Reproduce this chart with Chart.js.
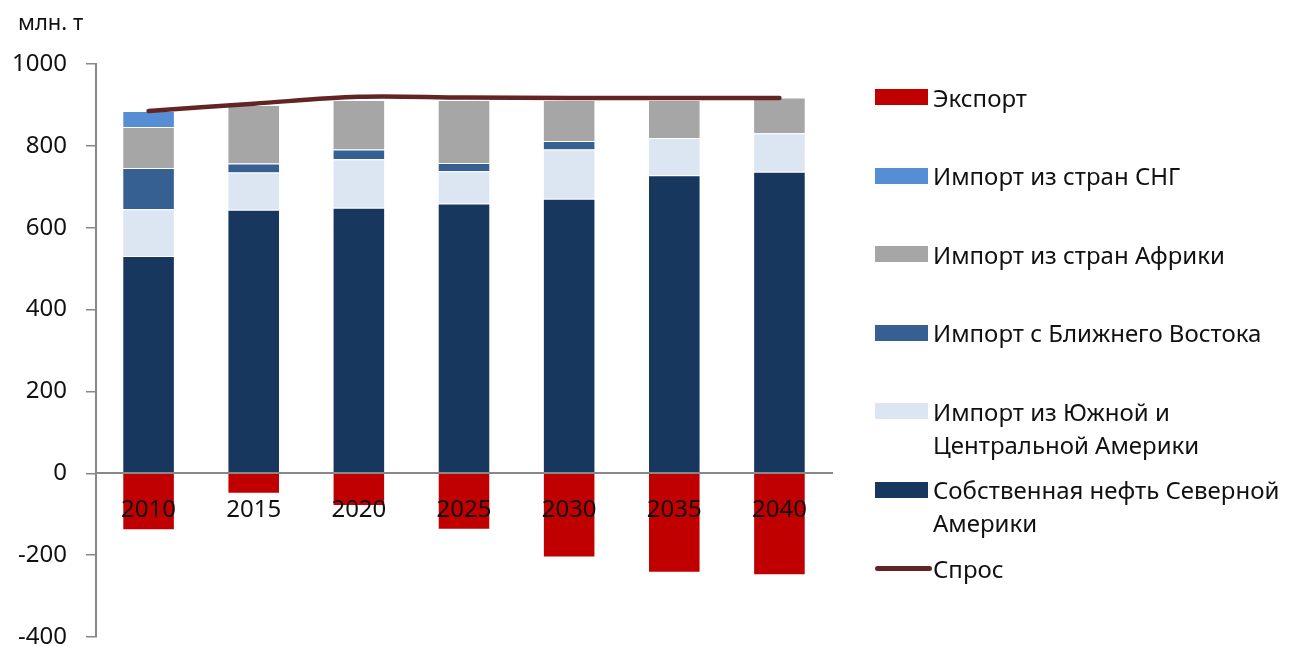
<!DOCTYPE html>
<html>
<head>
<meta charset="utf-8">
<script src="https://cdn.jsdelivr.net/npm/chart.js@4/dist/chart.umd.min.js"></script>
<style>
  body { margin: 0; background: #fff; font-family: "Noto Sans", sans-serif; }
  #wrap { position: relative; width: 1296px; height: 647px; }
  #unit { position: absolute; left: 18px; top: 6px; font-size: 22px; color: #111; }
  #legend { position: absolute; left: 0; top: 0; }
  .item { position: absolute; left: 875px; display: flex; align-items: flex-start; }
  .sw { width: 53px; height: 16px; margin-top: 8.5px; margin-right: 5px; flex: none; }
  .ln { width: 57px; height: 5px; border-radius: 3px; margin-top: 14px; margin-right: 1px; flex: none; }
  .txt { font-size: 24px; line-height: 33px; color: #111; white-space: nowrap; }
</style>
</head>
<body>
<div id="wrap">
  <canvas id="myChart" width="1296" height="647"></canvas>
  <div id="unit">млн. т</div>
  <div id="legend"></div>
</div>
<script>
// ==============Data==============
const years = ["2010", "2015", "2020", "2025", "2030", "2035", "2040"];
const ownNA = [531, 644, 649, 659, 671, 728, 737];
const importSCA = [114, 91, 118, 79, 120, 91, 94];
const importME = [101, 22, 24, 20, 21, 0, 0];
const importAfrica = [100, 143, 121, 154, 100, 93, 87];
const importCIS = [39, 0, 0, 0, 0, 0, 0];
const exportVals = [-139, -50, -80, -138, -206, -243, -249];
const demand = [885, 903, 920, 918, 917, 917, 917];
const yTicks = [1000, 800, 600, 400, 200, 0, -200, -400];

const colors = {
  own: "#17375E",
  sca: "#DCE6F2",
  me: "#366092",
  africa: "#A6A6A6",
  cis: "#558ED5",
  exp: "#C00000",
  demand: "#632523",
};

function barSet(label, data, color) {
  return {
    type: "bar",
    label: label,
    data: data,
    backgroundColor: color,
    borderColor: "rgba(255,255,255,0.55)",
    borderWidth: 1,
    stack: "s",
    order: 1,
    barPercentage: 0.5,
    categoryPercentage: 1,
  };
}

const datasets = [
  barSet("Собственная нефть Северной Америки", ownNA, colors.own),
  barSet("Импорт из Южной и Центральной Америки", importSCA, colors.sca),
  barSet("Импорт с Ближнего Востока", importME, colors.me),
  barSet("Импорт из стран Африки", importAfrica, colors.africa),
  barSet("Импорт из стран СНГ", importCIS, colors.cis),
  barSet("Экспорт", exportVals, colors.exp),
  {
    type: "line",
    label: "Спрос",
    data: demand,
    borderColor: colors.demand,
    backgroundColor: colors.demand,
    borderWidth: 4.5,
    borderCapStyle: "round",
    pointRadius: 0,
    tension: 0.35,
    stack: "d",
    order: 0,
  },
];

const font = { family: "'Noto Sans', sans-serif", size: 24 };

const ctx = document.getElementById("myChart").getContext("2d");
const mychart = new Chart(ctx, {
  data: { labels: years, datasets: datasets },
  options: {
    responsive: false,
    animation: false,
    layout: { padding: { left: 0, top: 64, right: 464, bottom: 10 } },
    plugins: { legend: { display: false }, tooltip: { enabled: false } },
    scales: {
      x: {
        stacked: true,
        position: { y: 0 },
        grid: { display: false, drawTicks: false },
        border: { display: true, color: "#888", width: 2, z: 1 },
        ticks: { color: "#111", font: font, padding: 22, z: 1 },
      },
      y: {
        stacked: true,
        min: -400,
        max: 1000,
        afterBuildTicks: (scale) => {
          scale.ticks = yTicks.map((v) => ({ value: v }));
        },
        afterFit: (scale) => {
          scale.width = 96;
          scale.paddingBottom = 10;
        },
        grid: { drawOnChartArea: false, drawTicks: true, tickLength: 10, color: "#888", lineWidth: 1.5 },
        border: { display: true, color: "#888", width: 2 },
        ticks: { color: "#111", font: font, padding: 19, callback: (v) => String(v) },
      },
    },
  },
});

// ==============Legend==============
const legendOrder = [5, 4, 3, 2, 1, 0, 6];
const legendLines = {
  1: ["Импорт из Южной и", "Центральной Америки"],
  0: ["Собственная нефть Северной", "Америки"],
};
legendOrder.forEach((idx, i) => {
  const ds = datasets[idx];
  const item = document.createElement("div");
  item.className = "item";
  item.style.top = 97 + i * 78.5 - 16.5 + "px";
  const sw = document.createElement("div");
  sw.className = ds.type === "line" ? "ln" : "sw";
  sw.style.background = ds.type === "line" ? ds.borderColor : ds.backgroundColor;
  const txt = document.createElement("div");
  txt.className = "txt";
  txt.innerHTML = (legendLines[idx] || [ds.label]).join("<br>");
  item.appendChild(sw);
  item.appendChild(txt);
  document.getElementById("legend").appendChild(item);
});
</script>
</body>
</html>
